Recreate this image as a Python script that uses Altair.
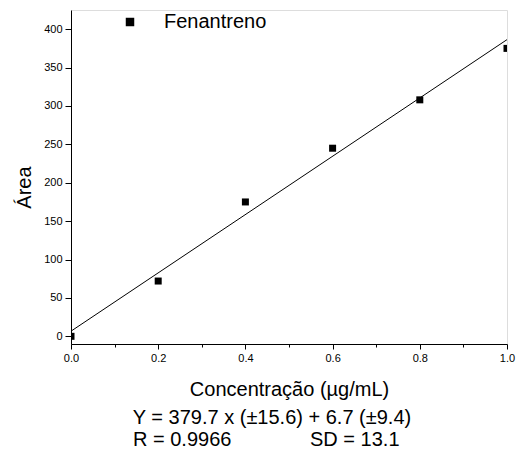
import altair as alt
import pandas as pd

conc = [0.0, 0.2, 0.4, 0.6, 0.8, 1.0]
area = [0, 72, 175, 245, 308, 375]
fit_x = [0.0, 1.0]
fit_y = [6.7, 386.4]
series = "Fenantreno"

y_ticks = [0, 25, 50, 75, 100, 125, 150, 175, 200, 225, 250, 275, 300, 325, 350, 375, 400, 425]
x_ticks = [0.0, 0.1, 0.2, 0.3, 0.4, 0.5, 0.6, 0.7, 0.8, 0.9, 1.0]

eq1 = "Y = 379.7 x (\u00b115.6) + 6.7 (\u00b19.4)"
eq2a = "R = 0.9966"
eq2b = "SD = 13.1"

FONT = "Liberation Sans"

pts = pd.DataFrame({"x": conc, "y": area, "s": [series] * len(conc)})
fit = pd.DataFrame({"x": fit_x, "y": fit_y})

xs = alt.Scale(domain=[0, 1], nice=False, zero=False)
ys = alt.Scale(domain=[-10, 425], nice=False, zero=False)

xaxis = alt.Axis(
    values=x_ticks, format=".1f", grid=False,
    labelExpr="round(datum.value*10) % 2 == 0 ? format(datum.value, '.1f') : ''",
    tickSize={"condition": {"test": "round(datum.value*10) % 2 != 0", "value": 3}, "value": 5},
    labelFontSize=11, labelFont=FONT, labelColor="black", labelPadding=3,
    title="Concentra\u00e7\u00e3o (\u00b5g/mL)", titleFontSize=20, titleFont=FONT,
    titleFontWeight="normal", titleColor="black", titlePadding=16,
    domainColor="black", tickColor="black", labelFlush=False,
)
yaxis = alt.Axis(
    values=y_ticks, grid=False,
    labelExpr="datum.value % 50 == 0 ? datum.value : ''",
    tickSize={"condition": {"test": "datum.value % 50 != 0", "value": 3}, "value": 6},
    labelFontSize=11, labelFont=FONT, labelColor="black", labelPadding=3,
    title="\u00c1rea", titleFontSize=20, titleFont=FONT, titleFontWeight="normal",
    titleColor="black", titlePadding=9, titleY=177,
    domainColor="black", tickColor="black",
)

line = alt.Chart(fit).mark_line(color="black", strokeWidth=1, clip=True).encode(
    x=alt.X("x:Q", scale=xs, axis=xaxis),
    y=alt.Y("y:Q", scale=ys, axis=yaxis),
)

points = alt.Chart(pts).mark_square(size=49, opacity=1, clip=True).encode(
    x=alt.X("x:Q", scale=xs),
    y=alt.Y("y:Q", scale=ys),
    color=alt.Color("s:N", scale=alt.Scale(range=["black"]),
                    legend=alt.Legend(title=None, orient="none", legendX=49, legendY=2,
                                      symbolType="square", symbolSize=72, symbolFillColor="black",
                                      symbolStrokeWidth=0,
                                      labelFontSize=20, labelFont=FONT, labelColor="black",
                                      labelOffset=24)),
)

ann = pd.DataFrame({"t": [eq1]})
t1 = alt.Chart(ann).mark_text(fontSize=20, font=FONT, align="center", baseline="middle", color="black").encode(
    text="t:N", x=alt.value(201), y=alt.value(408))
ann2 = pd.DataFrame({"t": [eq2a]})
t2 = alt.Chart(ann2).mark_text(fontSize=20, font=FONT, align="left", baseline="middle", color="black").encode(
    text="t:N", x=alt.value(62), y=alt.value(430))
ann3 = pd.DataFrame({"t": [eq2b]})
t3 = alt.Chart(ann3).mark_text(fontSize=20, font=FONT, align="left", baseline="middle", color="black").encode(
    text="t:N", x=alt.value(239), y=alt.value(430))

chart = alt.layer(line, points, t1, t2, t3).properties(
    width=436, height=334,
    autosize=alt.AutoSizeParams(type="none"),
    padding={"left": 71, "top": 10, "right": 9, "bottom": 106},
).configure_view(stroke=None).configure(background="white")

chart.save("out.html", embed_options={"renderer": "svg", "actions": False})
